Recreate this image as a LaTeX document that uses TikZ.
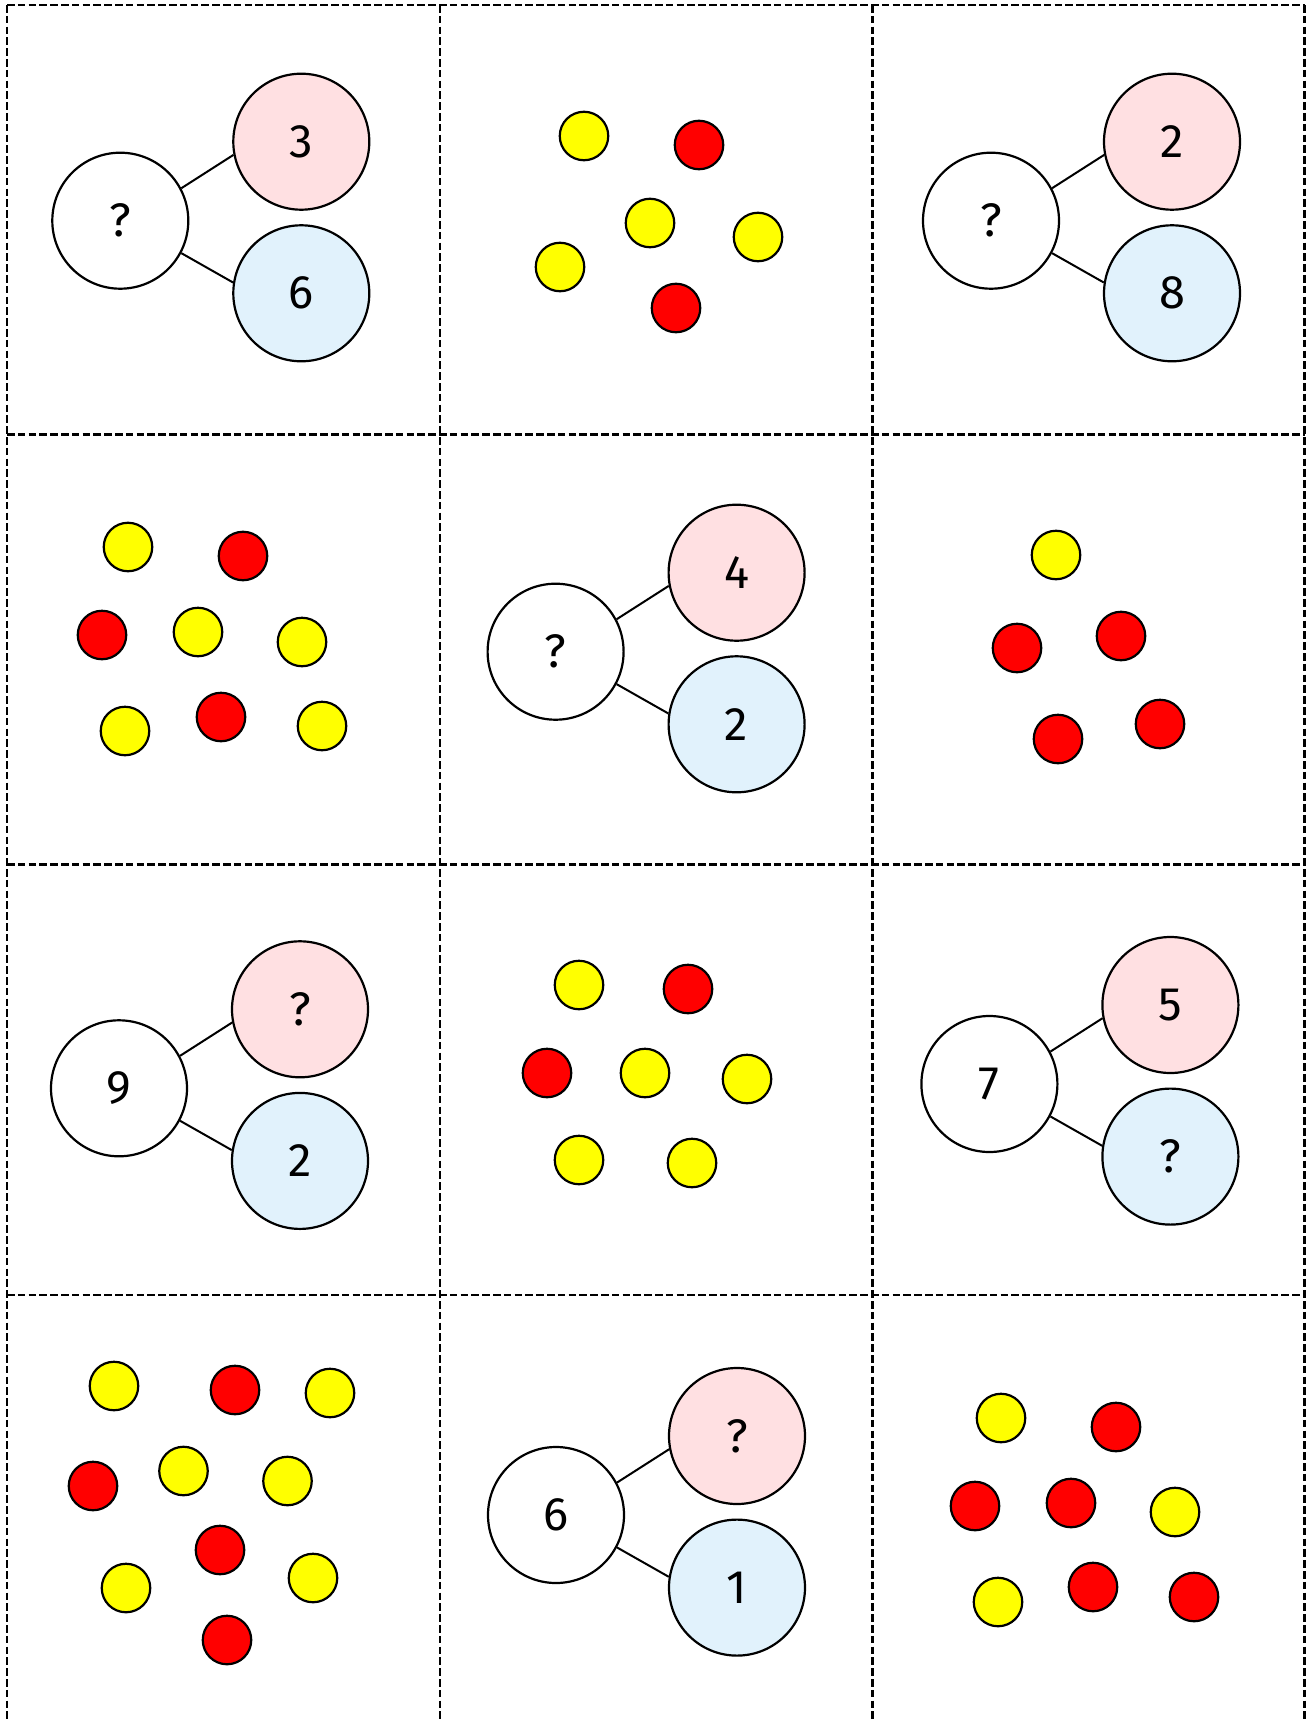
\documentclass[tikz,border=0pt]{standalone}
\usepackage{fontspec}
\setmainfont{Fira Sans}
\definecolor{pinkfill}{HTML}{FFE0E2}
\definecolor{bluefill}{HTML}{E1F2FC}
\definecolor{dotyellow}{HTML}{FFFF00}
\definecolor{dotred}{HTML}{FF0000}
\tikzset{
  whole/.style={circle, draw=black, line width=2.2pt, minimum size=136pt, inner sep=0pt, fill=white, font=\fontsize{47}{50}\selectfont},
  partA/.style={whole, fill=pinkfill},
  partB/.style={whole, fill=bluefill},
  link/.style={line width=2pt},
  counter/.style={circle, draw=black, line width=2.2pt, minimum size=48.5pt, inner sep=0pt},
  ydot/.style={counter, fill=dotyellow},
  rdot/.style={counter, fill=dotred},
  cutline/.style={line width=2.8pt, dash pattern=on 7.6pt off 3.2pt}
}
\newcommand\numbond[6]{%
  \begin{scope}[shift={(#2,#3)}]
    \node[whole] (#1w) at (0,0) {#4};
    \node[partA] (#1p) at (181,-79) {#5};
    \node[partB] (#1b) at (181,72.6) {#6};
    \draw[link] (#1w.28) -- (#1p.191);
    \draw[link] (#1w.-28) -- (#1b.171);
  \end{scope}}
\begin{document}
\begin{tikzpicture}[x=1pt,y=-1pt]
\useasboundingbox[fill=white] (0,0) rectangle (1314,1720);
% cutting grid
\foreach \yy in {5,434.5,864.5,1295} \draw[cutline] (7,\yy) -- (1304.5,\yy);
\foreach \xx in {7,440,872.5,1304.5} \draw[cutline] (\xx,5) -- (\xx,1720);
% number bonds
\numbond{a}{120.3}{220.7}{?}{3}{6}
\numbond{c}{991}{220.7}{?}{2}{8}
\numbond{e}{555.6}{651.7}{?}{4}{2}
\numbond{g}{119}{1088.3}{9}{?}{2}
\numbond{i}{989.4}{1084}{7}{5}{?}
\numbond{k}{556}{1515}{6}{?}{1}
% counters, cell 1-2
\node[ydot] (b1) at (584,136) {};
\node[rdot] (b2) at (699,145) {};
\node[ydot] (b3) at (650,223) {};
\node[ydot] (b4) at (758,237) {};
\node[ydot] (b5) at (560,267) {};
\node[rdot] (b6) at (676,308) {};
% cell 2-1
\node[ydot] (d1) at (128,547) {};
\node[rdot] (d2) at (243,556) {};
\node[rdot] (d3) at (102,635) {};
\node[ydot] (d4) at (198,632) {};
\node[ydot] (d5) at (302,642) {};
\node[ydot] (d6) at (125,731) {};
\node[rdot] (d7) at (221,717) {};
\node[ydot] (d8) at (322,726) {};
% cell 2-3
\node[ydot] (f1) at (1056,555) {};
\node[rdot] (f2) at (1017,648) {};
\node[rdot] (f3) at (1121,636) {};
\node[rdot] (f4) at (1058,739) {};
\node[rdot] (f5) at (1160,724) {};
% cell 3-2
\node[ydot] (h1) at (579,985) {};
\node[rdot] (h2) at (688,989) {};
\node[rdot] (h3) at (547,1073) {};
\node[ydot] (h4) at (645,1073) {};
\node[ydot] (h5) at (747,1079) {};
\node[ydot] (h6) at (579,1160) {};
\node[ydot] (h7) at (692,1163) {};
% cell 4-1
\node[ydot] (j1) at (114,1386) {};
\node[rdot] (j2) at (235,1390) {};
\node[ydot] (j3) at (330,1393) {};
\node[rdot] (j4) at (93,1486) {};
\node[ydot] (j5) at (183.5,1471) {};
\node[ydot] (j6) at (287.5,1481) {};
\node[rdot] (j7) at (220,1550) {};
\node[ydot] (j8) at (126,1588) {};
\node[ydot] (j9) at (313,1578) {};
\node[rdot] (j10) at (227,1640) {};
% cell 4-3
\node[ydot] (l1) at (1001,1418) {};
\node[rdot] (l2) at (1116,1427) {};
\node[rdot] (l3) at (975,1506) {};
\node[rdot] (l4) at (1071,1503) {};
\node[ydot] (l5) at (1175,1512) {};
\node[ydot] (l6) at (998,1602) {};
\node[rdot] (l7) at (1093,1587) {};
\node[rdot] (l8) at (1194,1597) {};
\end{tikzpicture}
\end{document}
